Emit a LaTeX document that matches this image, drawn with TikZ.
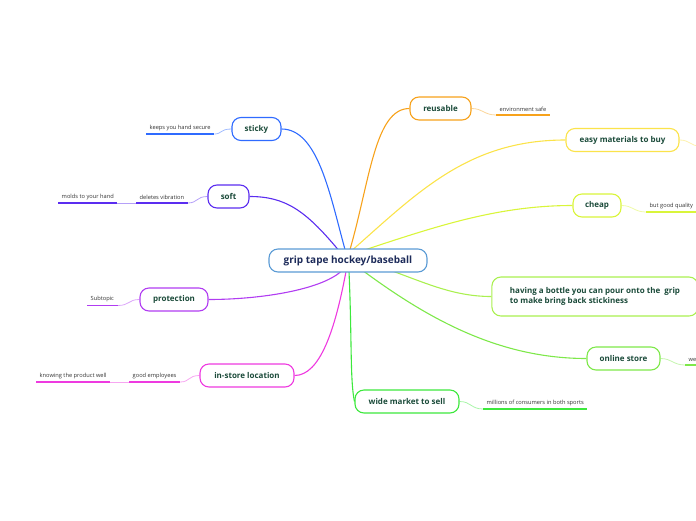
\documentclass[tikz,border=0pt]{standalone}
\usepackage{fontspec}
\setmainfont{Open Sans}
\usetikzlibrary{backgrounds}
\begin{document}
\begin{tikzpicture}[x=1pt,y=-1pt,
  topic/.style={draw=#1, line width=1.1pt, rounded corners=9pt, fill=white, minimum height=23pt, inner xsep=6pt, font=\fontsize{8}{9.5}\selectfont\bfseries, text=topictext},
  central/.style={draw=centralborder, line width=1.1pt, rounded corners=9pt, fill=white, minimum height=23pt, minimum width=158pt, font=\fontsize{10}{11}\selectfont\bfseries, text=centraltext},
  sub/.style={inner xsep=3.5pt, inner ysep=3pt, font=\fontsize{5.7}{6.5}\selectfont, text=subtext, anchor=south west},
  uline/.style={line width=1.6pt, draw=#1},
  conn/.style={line width=1.1pt, draw=#1},
  subconn/.style={line width=0.8pt, draw=#1!45}
]
\definecolor{topictext}{HTML}{1B4B3A}
\definecolor{centraltext}{HTML}{1D2B5A}
\definecolor{centralborder}{HTML}{5B9BD5}
\definecolor{subtext}{HTML}{333333}
\definecolor{cSticky}{HTML}{2F6BFF}
\definecolor{cSoft}{HTML}{5B2DF0}
\definecolor{cProt}{HTML}{B13CF2}
\definecolor{cStore}{HTML}{EE3AE0}
\definecolor{cReuse}{HTML}{F7A21B}
\definecolor{cEasy}{HTML}{FBE34A}
\definecolor{cCheap}{HTML}{D9F53A}
\definecolor{cBottle}{HTML}{AAF050}
\definecolor{cOnline}{HTML}{7EE84A}
\definecolor{cWide}{HTML}{3DE83D}

\useasboundingbox (0,0) rectangle (696,520);
\clip (0,0) rectangle (696,520);

% main topic nodes
\node[central] (c) at (348,260.5) {grip tape hockey/baseball};
\node[topic=cSticky, minimum width=49pt] (sticky) at (256.5,129) {sticky};
\node[topic=cSoft, minimum width=41pt] (soft) at (228.5,196.5) {soft};
\node[topic=cProt, minimum width=68pt] (prot) at (174,299.5) {protection};
\node[topic=cStore, minimum width=94pt] (store) at (247,375.5) {in-store location};
\node[topic=cReuse, minimum width=61pt] (reuse) at (440.5,108.5) {reusable};
\node[topic=cEasy, minimum width=113pt] (easy) at (622.5,140) {easy materials to buy};
\node[topic=cCheap, minimum width=48pt] (cheap) at (597,205.5) {cheap};
\node[topic=cBottle, minimum width=206pt, minimum height=39pt, align=left, inner xsep=18pt] (bottle) at (595,296.5) {having a bottle you can pour onto the\ \ grip\\to make bring back stickiness};
\node[topic=cOnline, minimum width=73pt] (online) at (623.5,358.5) {online store};
\node[topic=cWide, minimum width=104pt] (wide) at (407,401.5) {wide market to sell};

\coordinate (o1) at (345,249.5);
\coordinate (o2) at (338,249.5);
\coordinate (o3) at (341,271.5);
\coordinate (o4) at (346,271.5);
\coordinate (o5) at (350,249.5);
\coordinate (o6) at (353,249.5);
\coordinate (o7) at (366,249.5);
\coordinate (o8) at (378,266);
\coordinate (o9) at (364,271.5);
\coordinate (o10) at (349,271.5);

% subtopics
\node[sub] (ks) at (146,134) {keeps you hand secure};
\node[sub] (dv) at (136,203) {deletes vibration};
\node[sub] (mh) at (58,203) {molds to your hand};
\node[sub] (st) at (87,305.5) {Subtopic};
\node[sub] (ge) at (129,382) {good employees};
\node[sub] (kp) at (36,382) {knowing the product well};
\node[sub] (es) at (496,115) {environment safe};
\node[sub] (bg) at (646,212) {but good quality};
\node[sub] (we) at (685,365) {we};
\node[sub] (mc) at (483,409) {millions of consumers in both sports};
\coordinate (easyend) at (700,146);
\coordinate (bottleend) at (700,302);

\begin{scope}[on background layer]
% main connectors
\draw[conn=cSticky] (o1) .. controls (330,195) and (318,129) .. (sticky.east);
\draw[conn=cSoft] (o2) .. controls (305,210) and (285,196.5) .. (soft.east);
\draw[conn=cProt] (o3) .. controls (320,290) and (260,299.5) .. (prot.east);
\draw[conn=cStore] (o4) .. controls (335,330) and (320,375.5) .. (store.east);
\draw[conn=cReuse] (o5) .. controls (370,180) and (375,108.5) .. (reuse.west);
\draw[conn=cEasy] (o6) .. controls (420,190) and (470,140) .. (easy.west);
\draw[conn=cCheap] (o7) .. controls (440,225) and (500,205.5) .. (cheap.west);
\draw[conn=cBottle] (o8) .. controls (420,280) and (450,296.5) .. (bottle.west);
\draw[conn=cOnline] (o9) .. controls (430,320) and (500,358.5) .. (online.west);
\draw[conn=cWide] (o10) .. controls (352,340) and (350,380) .. (wide.west);
% sub connectors
\draw[subconn=cSticky] (sticky.west) .. controls (220,129) and (222,134) .. (ks.south east);
\draw[subconn=cSoft] (soft.west) .. controls (196,196.5) and (198,203) .. (dv.south east);
\draw[subconn=cSoft] (dv.south west) -- (mh.south east);
\draw[subconn=cProt] (prot.west) .. controls (128,299.5) and (130,305.5) .. (st.south east);
\draw[subconn=cStore] (store.west) .. controls (188,375.5) and (190,382) .. (ge.south east);
\draw[subconn=cStore] (ge.south west) -- (kp.south east);
\draw[subconn=cReuse] (reuse.east) .. controls (483,108.5) and (484,115) .. (es.south west);
\draw[subconn=cEasy] (easy.east) .. controls (690,140) and (690,146) .. (easyend);
\draw[subconn=cCheap] (cheap.east) .. controls (633,205.5) and (634,212) .. (bg.south west);
\draw[subconn=cOnline] (online.east) .. controls (672,358.5) and (673,365) .. (we.south west);
\draw[subconn=cWide] (wide.east) .. controls (471,401.5) and (471,409) .. (mc.south west);
% underlines
\draw[uline=cSticky] (ks.south west) -- (ks.south east);
\draw[uline=cSoft] (dv.south west) -- (dv.south east);
\draw[uline=cSoft] (mh.south west) -- (mh.south east);
\draw[uline=cProt] (st.south west) -- (st.south east);
\draw[uline=cStore] (ge.south west) -- (ge.south east);
\draw[uline=cStore] (kp.south west) -- (kp.south east);
\draw[uline=cReuse] (es.south west) -- (es.south east);
\draw[uline=cCheap] (bg.south west) -- (bg.south east);
\draw[uline=cOnline] (we.south west) -- (we.south east);
\draw[uline=cWide] (mc.south west) -- (mc.south east);
\end{scope}
\end{tikzpicture}
\end{document}
